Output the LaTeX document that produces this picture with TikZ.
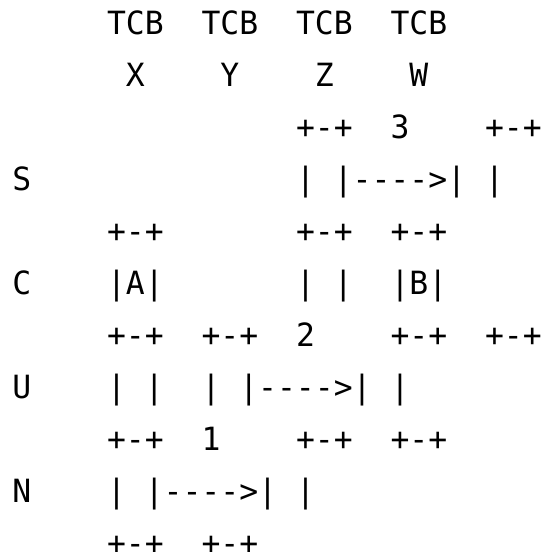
\documentclass[tikz,border=0pt]{standalone}
\usepackage{fontspec}
\newfontfamily\asciifont[FakeStretch=0.981,Ligatures=TeXOff]{DejaVu Sans Mono}
\tikzset{
  seg/.style={anchor=base west, inner sep=0pt, outer sep=0pt,
    font=\asciifont\fontsize{32}{36}\selectfont, text=black}
}
\newcommand{\asg}[4]{\node[seg] (#1) at ({12.5+#3*18.9},{34+(#2-1)*52.05}) {#4};}
\begin{document}
\begin{tikzpicture}[x=1pt,y=-1pt]
\fill[white] (0,0) rectangle (541,552);
\useasboundingbox (0,0) rectangle (541,552);
% line 1
\asg{t1}{1}{5}{TCB}
\asg{t2}{1}{10}{TCB}
\asg{t3}{1}{15}{TCB}
\asg{t4}{1}{20}{TCB}
% line 2
\asg{lx}{2}{6}{X}
\asg{ly}{2}{11}{Y}
\asg{lz}{2}{16}{Z}
\asg{lw}{2}{21}{W}
% line 3
\asg{a3a}{3}{15}{+-+}
\asg{a3b}{3}{20}{3}
\asg{a3c}{3}{25}{+-+}
% line 4
\asg{ls}{4}{0}{S}
\asg{a4a}{4}{15}{|}
\asg{a4b}{4}{17}{|---->|}
\asg{a4c}{4}{25}{|}
% line 5
\asg{a5a}{5}{5}{+-+}
\asg{a5b}{5}{15}{+-+}
\asg{a5c}{5}{20}{+-+}
% line 6
\asg{lc}{6}{0}{C}
\asg{a6a}{6}{5}{|A|}
\asg{a6b}{6}{15}{|}
\asg{a6c}{6}{17}{|}
\asg{a6d}{6}{20}{|B|}
% line 7
\asg{a7a}{7}{5}{+-+}
\asg{a7b}{7}{10}{+-+}
\asg{a7c}{7}{15}{2}
\asg{a7d}{7}{20}{+-+}
\asg{a7e}{7}{25}{+-+}
% line 8
\asg{lu}{8}{0}{U}
\asg{a8a}{8}{5}{|}
\asg{a8b}{8}{7}{|}
\asg{a8c}{8}{10}{|}
\asg{a8d}{8}{12}{|---->|}
\asg{a8e}{8}{20}{|}
% line 9
\asg{a9a}{9}{5}{+-+}
\asg{a9b}{9}{10}{1}
\asg{a9c}{9}{15}{+-+}
\asg{a9d}{9}{20}{+-+}
% line 10
\asg{ln}{10}{0}{N}
\asg{a10a}{10}{5}{|}
\asg{a10b}{10}{7}{|---->|}
\asg{a10c}{10}{15}{|}
% line 11
\asg{a11a}{11}{5}{+-+}
\asg{a11b}{11}{10}{+-+}
\end{tikzpicture}
\end{document}
